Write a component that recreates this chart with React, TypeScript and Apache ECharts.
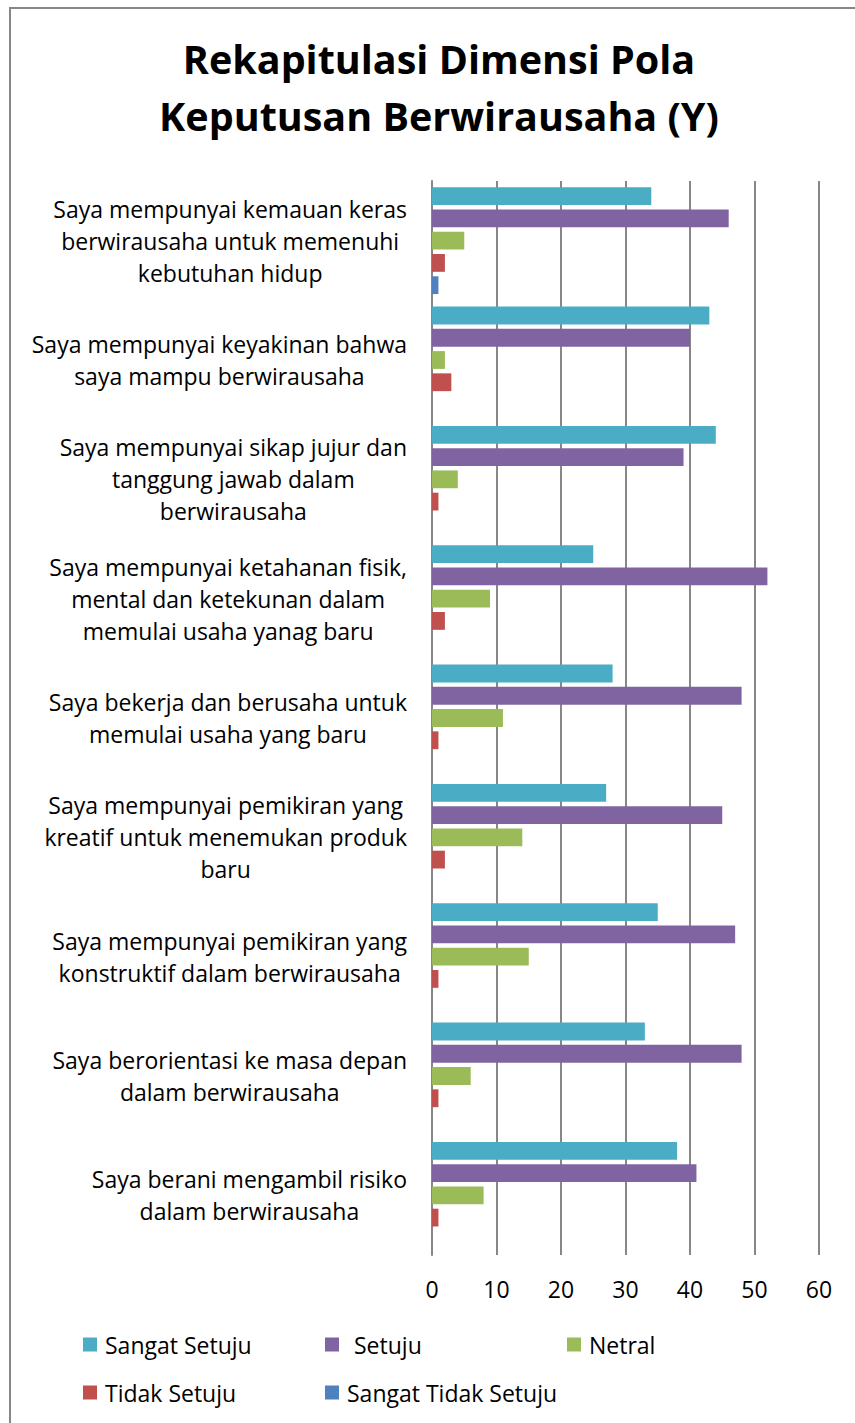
import React, { useEffect, useRef } from "react";
import * as echarts from "echarts";

const categories = [
  "Saya mempunyai kemauan keras\nberwirausaha untuk memenuhi\nkebutuhan hidup",
  "Saya mempunyai keyakinan bahwa\nsaya mampu berwirausaha",
  "Saya mempunyai sikap jujur dan\ntanggung jawab dalam\nberwirausaha",
  "Saya mempunyai ketahanan fisik,\nmental dan ketekunan dalam\nmemulai usaha yanag baru",
  "Saya bekerja dan berusaha untuk\nmemulai usaha yang baru",
  "Saya mempunyai pemikiran yang\nkreatif untuk menemukan produk\nbaru",
  "Saya mempunyai pemikiran yang\nkonstruktif dalam berwirausaha",
  "Saya berorientasi ke masa depan\ndalam berwirausaha",
  "Saya berani mengambil risiko\ndalam berwirausaha",
];

const seriesNames = ["Sangat Setuju", "Setuju", "Netral", "Tidak Setuju", "Sangat Tidak Setuju"];
const sangatSetuju = [34, 43, 44, 25, 28, 27, 35, 33, 38];
const setuju = [46, 40, 39, 52, 48, 45, 47, 48, 41];
const netral = [5, 2, 4, 9, 11, 14, 15, 6, 8];
const tidakSetuju = [2, 3, 1, 2, 1, 2, 1, 1, 1];
const sangatTidakSetuju = [1, 0, 0, 0, 0, 0, 0, 0, 0];
const xMin = 0;
const xMax = 60;
const xInterval = 10;

const colors = ["#4BACC6", "#8064A2", "#9BBB59", "#C0504D", "#4F81BD"];
const FONT = "'Open Sans', 'Noto Sans', sans-serif";

export default function App() {
  const ref = useRef<HTMLDivElement>(null);
  useEffect(() => {
    if (!ref.current) return;
    const chart = echarts.init(ref.current, null, { renderer: "svg" });
    const values = [sangatSetuju, setuju, netral, tidakSetuju, sangatTidakSetuju];
    const legendPos = [
      { left: 83, top: 1333 },
      { left: 325, top: 1333 },
      { left: 567, top: 1333 },
      { left: 83, top: 1381 },
      { left: 325, top: 1381 },
    ];
    chart.setOption({
      animation: false,
      backgroundColor: "#ffffff",
      title: {
        text: "Rekapitulasi Dimensi Pola\nKeputusan Berwirausaha (Y)",
        left: 434,
        top: 25,
        textAlign: "center",
        textStyle: {
          fontFamily: FONT,
          fontSize: 39.5,
          fontWeight: "bold",
          lineHeight: 57,
          color: "#000000",
        },
      },
      graphic: [
        {
          type: "rect",
          shape: { x: 10, y: 8, width: 900, height: 1500 },
          style: { fill: "none", stroke: "#878787", lineWidth: 2 },
          silent: true,
        },
      ],
      legend: seriesNames.map((n, i) => ({
        data: [n],
        left: legendPos[i].left,
        top: legendPos[i].top,
        icon: "rect",
        itemWidth: 14,
        itemHeight: 14,
        itemGap: 0,
        padding: 0,
        textStyle: {
          fontFamily: FONT,
          fontSize: 23,
          color: "#000000",
          padding: [0, 0, 0, i === 1 ? 10 : 3],
        },
      })),
      grid: { left: 432, right: 36, top: 181, bottom: 168, containLabel: false },
      xAxis: {
        type: "value",
        min: xMin,
        max: xMax,
        interval: xInterval,
        axisLine: { show: false },
        axisTick: { show: false },
        splitLine: { show: true, lineStyle: { color: "#878787", width: 2 } },
        axisLabel: {
          margin: 22,
          fontFamily: FONT,
          fontSize: 23,
          color: "#000000",
        },
      },
      yAxis: {
        type: "category",
        data: categories,
        inverse: true,
        axisLine: { show: true, lineStyle: { color: "#878787", width: 2 } },
        axisTick: { show: false },
        axisLabel: {
          margin: 25,
          align: "right",
          formatter: (v: string) =>
            v
              .split("\n")
              .map((l) => `{c|${l}}`)
              .join("\n"),
          rich: {
            c: {
              align: "center",
              fontFamily: FONT,
              fontSize: 23,
              lineHeight: 32,
              color: "#000000",
            },
          },
        },
      },
      series: seriesNames.map((n, i) => ({
        name: n,
        type: "bar",
        data: values[i],
        barWidth: 17.8,
        barGap: "25%",
        itemStyle: { color: colors[i] },
      })),
    });
    return () => chart.dispose();
  }, []);
  return (
    <div
      ref={ref}
      style={{ position: "absolute", left: 0, top: 0, width: 855, height: 1423 }}
    />
  );
}
